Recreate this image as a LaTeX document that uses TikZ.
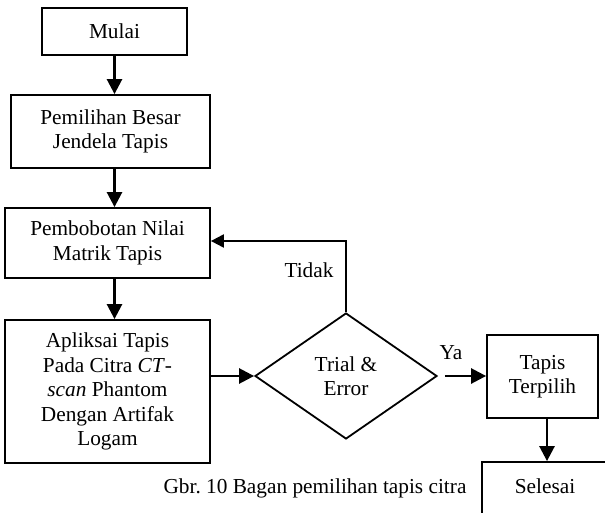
\documentclass[tikz,border=0pt]{standalone}
\usepackage{fontspec}
\setmainfont{Liberation Serif}
\usetikzlibrary{arrows.meta,shapes.geometric}
\frenchspacing
\begin{document}
\begin{tikzpicture}[x=1pt,y=-1pt,
  every node/.style={font=\fontsize{21.3}{24.5}\selectfont},
  box/.style={draw,line width=1.8pt,inner sep=0pt,align=center},
  arr/.style={line width=2.6pt,-{Triangle[length=15pt,width=15pt]}},
  arrs/.style={line width=2.2pt,-{Triangle[length=13pt,width=13pt]}}]
\useasboundingbox (0,0) rectangle (605,513);
\node[box,minimum width=145pt,minimum height=47pt] (m) at (114.5,31.5) {Mulai};
\node[box,minimum width=199pt,minimum height=73pt] (p) at (110.5,131.5) {Pemilihan Besar\\Jendela Tapis};
\node[box,minimum width=205pt,minimum height=70pt] (b3) at (107.5,243) {Pembobotan Nilai\\Matrik Tapis};
\node[box,minimum width=205pt,minimum height=143pt] (b4) at (107.5,391.5) {Apliksai Tapis\\Pada Citra \textit{CT}-\\\textit{scan} Phantom\\Dengan Artifak\\Logam};
\node[box,diamond,aspect=1.44,minimum width=182pt,minimum height=126pt] (d) at (346,376) {Trial \&\\Error};
\node[box,minimum width=111pt,minimum height=83pt] (tt) at (542.5,376.5) {Tapis\\Terpilih};
\node[box,minimum width=126pt,minimum height=56pt] (sel) at (545,490) {};
\node (selt) at (545,486) {Selesai};
\node[anchor=base] (cap) at (315,493) {Gbr. 10 Bagan pemilihan tapis citra};
\node (tidak) at (309,270) {Tidak};
\node (ya) at (451,353) {Ya};
\draw[arr] (m.south) -- (m.south |- p.north);
\draw[arr] (p.south -| m.south) -- (m.south |- b3.north);
\draw[arr] (b3.south -| m.south) -- (m.south |- b4.north);
\draw[arr] (d.west -| b4.east) -- (d.west);
\draw[arr] ([xshift=7pt]d.east) -- (tt.west |- d.east);
\draw[arr] ([xshift=4.5pt]tt.south) -- ([xshift=4.5pt]tt.south |- sel.north);
\draw[arrs] (d.north) |- ([yshift=2pt]b3.east);
\end{tikzpicture}
\end{document}
